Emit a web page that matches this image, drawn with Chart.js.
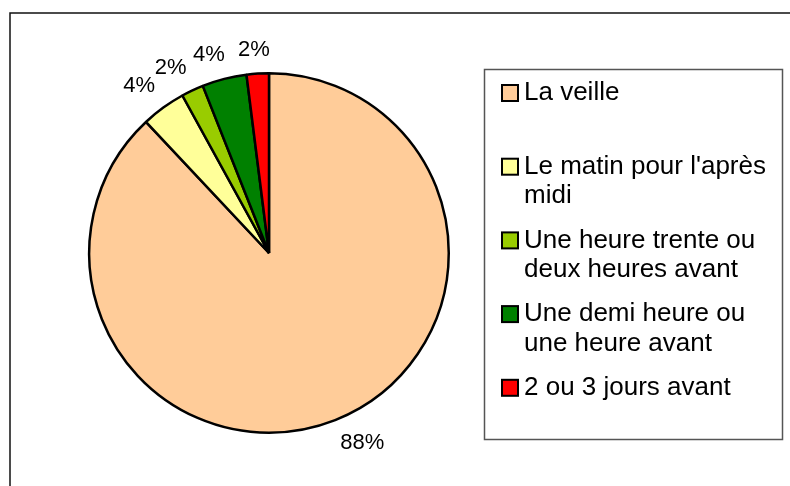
<!DOCTYPE html>
<html>
<head>
<meta charset="utf-8">
<script src="https://cdn.jsdelivr.net/npm/chart.js@4"></script>
<style>
  body { margin: 0; background: #fff; }
  canvas { display: block; }
</style>
</head>
<body>
<canvas id="myChart" width="790" height="486"></canvas>
<script>
// data
var categories = [
    "La veille",
    "Le matin pour l'après midi",
    "Une heure trente ou deux heures avant",
    "Une demi heure ou une heure avant",
    "2 ou 3 jours avant"
]
var counts = [44, 2, 1, 2, 1]
var colors = ['#FFCC99', '#FFFF99', '#99CC00', '#008000', '#FF0000']

var FONT = "'Liberation Sans', Arial, sans-serif"

// frame around the whole chart + legend box
const framePlugin = {
    id: 'frame',
    beforeDraw(chart) {
        const c = chart.ctx
        c.save()
        c.fillStyle = '#fff'
        c.fillRect(0, 0, chart.width, chart.height)
        c.strokeStyle = '#111'
        c.lineWidth = 1.5
        c.strokeRect(10, 13, 900, 900)
        c.strokeStyle = '#555'
        c.lineWidth = 1.5
        c.strokeRect(484.5, 69.5, 298, 370)
        c.restore()
    }
}

// percentage labels outside the slices, corner anchored like excel
const pctPlugin = {
    id: 'pct',
    afterDatasetsDraw(chart) {
        const c = chart.ctx
        const data = chart.data.datasets[0].data
        const total = data.reduce((a, b) => a + b, 0)
        const arcs = chart.getDatasetMeta(0).data
        c.save()
        c.font = '22px ' + FONT
        c.fillStyle = '#000'
        c.textAlign = 'center'
        c.textBaseline = 'middle'
        arcs.forEach(function(arc, i) {
            const mid = (arc.startAngle + arc.endAngle) / 2
            const s = Math.cos(mid), k = Math.sin(mid)
            const d = arc.outerRadius + 14
            const px = arc.x + d * s
            const py = arc.y + d * k
            const txt = Math.round(data[i] / total * 100) + '%'
            const w = c.measureText(txt).width
            const h = 20
            const fx = Math.max(-1, Math.min(1, s * 3))
            const fy = Math.max(-1, Math.min(1, k * 3))
            c.fillText(txt, px + fx * w / 2, py + fy * h / 2)
        })
        c.restore()
    }
}

// legend drawn by hand (multi line entries)
const legendPlugin = {
    id: 'sideLegend',
    afterDraw(chart) {
        const c = chart.ctx
        const labels = chart.data.labels
        const bg = chart.data.datasets[0].backgroundColor
        c.save()
        c.font = '26px ' + FONT
        c.textBaseline = 'middle'
        c.textAlign = 'left'
        labels.forEach(function(lab, i) {
            const y0 = 93 + i * 73.7
            // wrap
            var words = lab.split(' ')
            var lines = []
            var cur = ''
            words.forEach(function(w) {
                var t = cur ? cur + ' ' + w : w
                if (c.measureText(t).width > 254 && cur) {
                    lines.push(cur)
                    cur = w
                } else {
                    cur = t
                }
            })
            lines.push(cur)
            c.fillStyle = bg[i]
            c.fillRect(502, y0 - 8, 16, 16)
            c.strokeStyle = '#000'
            c.lineWidth = 2
            c.strokeRect(502, y0 - 8, 16, 16)
            c.fillStyle = '#000'
            lines.forEach(function(l, j) {
                c.fillText(l, 524, y0 + j * 29.5)
            })
        })
        c.restore()
    }
}

const ctx = document.getElementById('myChart')
new Chart(ctx, {
    type: 'pie',
    data: {
        labels: categories,
        datasets: [{
            data: counts,
            backgroundColor: colors,
            borderColor: '#000',
            borderWidth: 2.5
        }]
    },
    options: {
        responsive: false,
        animation: false,
        layout: {
            padding: { left: 88, right: 340, top: 72, bottom: 52 }
        },
        plugins: {
            legend: { display: false },
            tooltip: { enabled: false }
        }
    },
    plugins: [framePlugin, pctPlugin, legendPlugin]
})
</script>
</body>
</html>
